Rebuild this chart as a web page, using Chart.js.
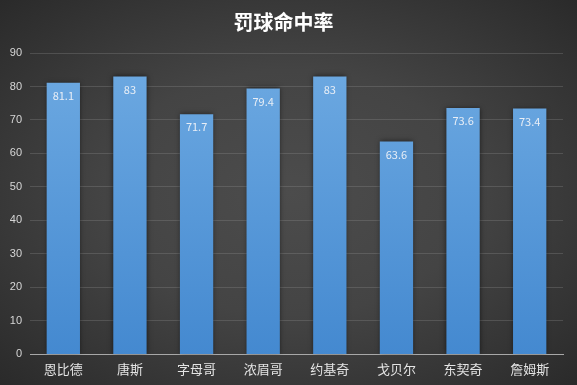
<!DOCTYPE html>
<html>
<head>
<meta charset="utf-8">
<script src="https://cdn.jsdelivr.net/npm/chart.js@4/dist/chart.umd.min.js"></script>
<style>
  html, body { margin: 0; padding: 0; }
  body {
    width: 577px; height: 385px; overflow: hidden;
    background: radial-gradient(ellipse at 50% 50%, #4c4c4c 0%, #444 45%, #2a2a2a 100%);
  }
  canvas { display: block; }
</style>
</head>
<body>
<canvas id="ftChart" width="577" height="385"></canvas>
<script>
// players and free-throw percentages
const players = ['恩比德', '唐斯', '字母哥', '浓眉哥', '约基奇', '戈贝尔', '东契奇', '詹姆斯'];
const ftPct = [81.1, 83, 71.7, 79.4, 83, 63.6, 73.6, 73.4];
const yTicks = [0, 10, 20, 30, 40, 50, 60, 70, 80, 90];

const cjk = '"Noto Sans CJK SC", "Microsoft YaHei", sans-serif';

// draw the value just inside the top of each bar
const barLabels = {
  id: 'barLabels',
  afterDatasetsDraw(chart) {
    const ctx = chart.ctx;
    const meta = chart.getDatasetMeta(0);
    ctx.save();
    ctx.fillStyle = '#e8eef6';
    ctx.font = '11px ' + cjk;
    ctx.textAlign = 'center';
    ctx.textBaseline = 'middle';
    meta.data.forEach(function (bar, i) {
      ctx.fillText(ftPct[i], bar.x, bar.y + 13);
    });
    ctx.restore();
  }
};

// soft dark shadow around the bars
const barShadow = {
  id: 'barShadow',
  beforeDatasetDraw(chart) {
    const ctx = chart.ctx;
    ctx.save();
    ctx.shadowColor = 'rgba(0,0,0,0.55)';
    ctx.shadowBlur = 5;
    ctx.shadowOffsetX = 0;
    ctx.shadowOffsetY = 0;
  },
  afterDatasetDraw(chart) {
    chart.ctx.restore();
  }
};

const ctx = document.getElementById('ftChart').getContext('2d');
new Chart(ctx, {
  type: 'bar',
  data: {
    labels: players,
    datasets: [{
      label: '罚球命中率',
      data: ftPct,
      backgroundColor: function (context) {
        const area = context.chart.chartArea;
        if (!area) return '#5b9bd5';
        const g = context.chart.ctx.createLinearGradient(0, area.top, 0, area.bottom);
        g.addColorStop(0, '#6eaae2');
        g.addColorStop(1, '#4489d0');
        return g;
      },
      borderWidth: 0,
      categoryPercentage: 1,
      barPercentage: 0.5
    }]
  },
  options: {
    responsive: false,
    animation: false,
    layout: { padding: { top: 9, right: 14, left: 4, bottom: 1 } },
    plugins: {
      legend: { display: false },
      tooltip: { enabled: false },
      title: {
        display: true,
        text: '罚球命中率',
        color: '#ffffff',
        font: { family: cjk, size: 20, weight: 'bold' },
        padding: { top: 1, bottom: 19 }
      }
    },
    scales: {
      x: {
        grid: { display: false, drawTicks: false },
        border: { color: '#a8a8a8', width: 1 },
        ticks: {
          color: '#e4e4e4',
          font: { family: cjk, size: 13 },
          padding: 7,
          maxRotation: 0
        }
      },
      y: {
        min: 0,
        max: 90,
        afterBuildTicks: function (axis) {
          axis.ticks = yTicks.map(v => ({ value: v }));
        },
        afterFit: function (axis) { axis.width = 26; },
        grid: { color: 'rgba(150,150,150,0.28)', drawTicks: false },
        border: { display: false },
        ticks: {
          color: '#d6d6d6',
          font: { family: 'Liberation Sans, sans-serif', size: 11 },
          padding: 8
        }
      }
    }
  },
  plugins: [barShadow, barLabels]
});
</script>
</body>
</html>
